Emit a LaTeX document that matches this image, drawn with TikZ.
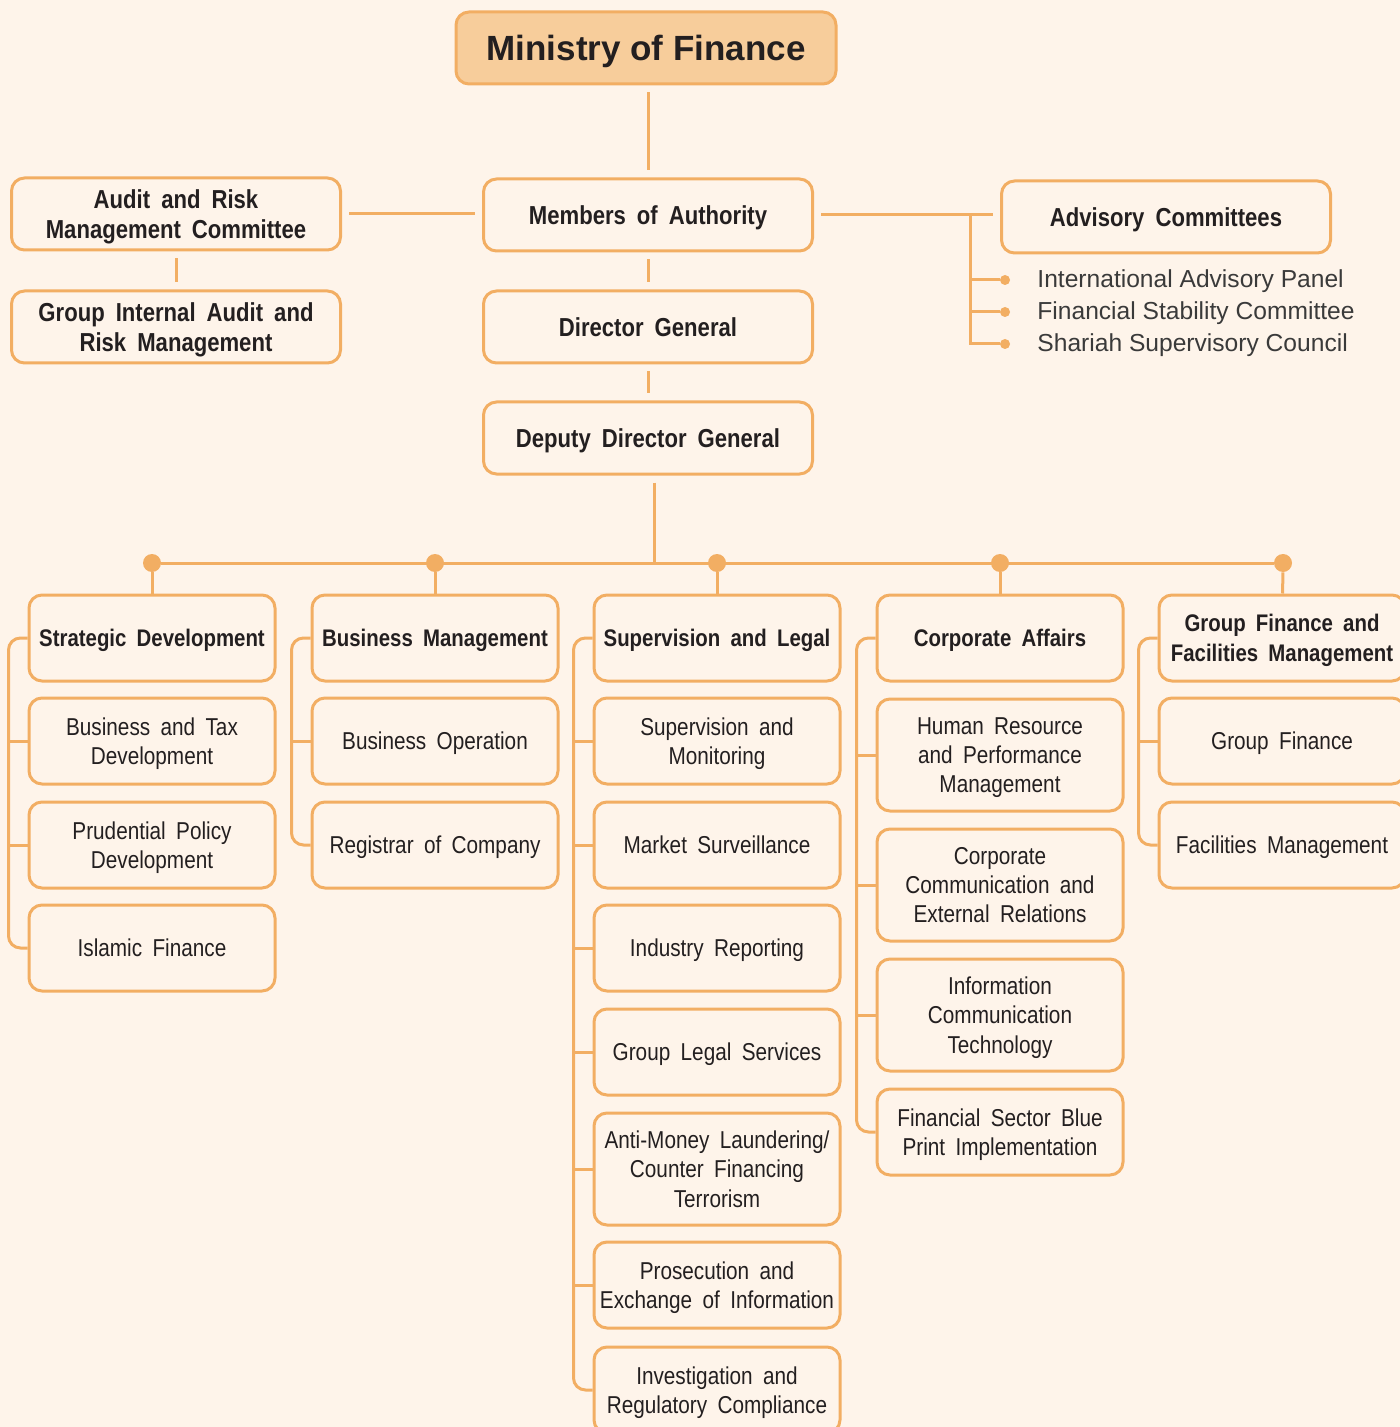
\documentclass[tikz,border=0pt]{standalone}
\usepackage{fontspec}
\setmainfont{Liberation Sans}
\newfontfamily\condfont[FakeStretch=0.85,WordSpace=1.8]{Liberation Sans}
\usetikzlibrary{positioning}

\definecolor{bgc}{HTML}{FEF4EA}
\definecolor{linec}{HTML}{F2AE63}
\definecolor{titlefill}{HTML}{F7CD9B}
\definecolor{textc}{HTML}{231F20}
\definecolor{listc}{HTML}{3A3A3A}

\tikzset{
  unitbox/.style={draw=linec, line width=1.5pt, rounded corners=6.5pt, align=center,
    text=textc, minimum width=123pt, minimum height=43pt, inner sep=1pt, text depth=0pt,
    font=\condfont\fontsize{12.2}{14.6}\selectfont},
  tallbox/.style={unitbox, minimum height=56pt},
  headbox/.style={unitbox, font=\condfont\bfseries\fontsize{12}{15}\selectfont},
  topbox/.style={unitbox, minimum width=164.5pt, minimum height=36pt,
    font=\condfont\bfseries\fontsize{13}{15}\selectfont},
  link/.style={draw=linec, line width=1.5pt},
  gap/.style={link, shorten <=3.5pt, shorten >=3.5pt},
  busdot/.style={circle, fill=linec, inner sep=0pt, minimum size=9pt},
  listdot/.style={circle, fill=linec, inner sep=0pt, minimum size=5pt},
  listitem/.style={anchor=west, inner sep=0pt, text=listc, font=\fontsize{12.3}{14}\selectfont},
}

\begin{document}
\begin{tikzpicture}[x=0.5pt,y=-0.5pt]

\useasboundingbox (0,0) rectangle (1400,1427);
\fill[bgc] (0,0) rectangle (1400,1427);

% top of the chart
\node[draw=linec, fill=titlefill, line width=1.5pt, rounded corners=6.5pt, minimum width=190pt,
  minimum height=36pt, text depth=0pt, text=textc, font=\bfseries\fontsize{17.5}{20}\selectfont] (mof) at (646,48) {Ministry of Finance};
\node[topbox] (moa) at (648,215) {Members of Authority};
\node[topbox] (arm) at (176,214) {Audit and Risk\\Management Committee};
\node[topbox] (gia) at (176,327) {Group Internal Audit and\\Risk Management};
\node[topbox] (adv) at (1166,217) {Advisory Committees};
\node[topbox] (dg) at (648,327) {Director General};
\node[topbox] (ddg) at (648,438) {Deputy Director General};

\draw[gap] (moa.north |- mof.south) -- (moa.north);
\draw[gap] (arm.east) -- (arm.east -| moa.west);
\draw[gap] (moa.east) -- (moa.east -| adv.west);
\draw[gap] (arm.south) -- (gia.north);
\draw[gap] (moa.south) -- (dg.north);
\draw[gap] (dg.south) -- (ddg.north);

% advisory committees list
\coordinate (advj) at (970,214);
\node[listdot] (a1) at (1005,280) {};
\node[listdot] (a2) at (1005,312) {};
\node[listdot] (a3) at (1005,344) {};
\draw[link] (advj) |- (a3);
\draw[link] (advj |- a1) -- (a1);
\draw[link] (advj |- a2) -- (a2);
\node[listitem] (iap) at (1037,281) {International Advisory Panel};
\node[listitem] (fsc) at (1037,313) {Financial Stability Committee};
\node[listitem] (ssc) at (1037,345) {Shariah Supervisory Council};

% bus to the five divisions
\coordinate (busc) at (654,563);
\node[busdot] (d1) at (152,563) {};
\node[busdot] (d2) at (435,563) {};
\node[busdot] (d3) at (717,563) {};
\node[busdot] (d4) at (1000,563) {};
\node[busdot] (d5) at (1283,563) {};
\draw[link, shorten <=3.5pt] (ddg.south -| busc) -- (busc);
\draw[link] (d1) -- (d5);

% strategic development
\node[headbox] (sd) at (152,638) {Strategic Development};
\node[unitbox] (btd) at (152,741) {Business and Tax\\Development};
\node[unitbox] (ppd) at (152,845) {Prudential Policy\\Development};
\node[unitbox] (isf) at (152,948) {Islamic Finance};

% business management
\node[headbox] (bm) at (435,638) {Business Management};
\node[unitbox] (bo) at (435,741) {Business Operation};
\node[unitbox] (roc) at (435,845) {Registrar of Company};

% supervision and legal
\node[headbox] (sl) at (717,638) {Supervision and Legal};
\node[unitbox] (sam) at (717,741) {Supervision and\\Monitoring};
\node[unitbox] (ms) at (717,845) {Market Surveillance};
\node[unitbox] (ir) at (717,948) {Industry Reporting};
\node[unitbox] (gls) at (717,1052) {Group Legal Services};
\node[tallbox] (aml) at (717,1169) {Anti-Money Laundering/\\Counter Financing\\Terrorism};
\node[unitbox] (pei) at (717,1285) {Prosecution and\\Exchange of Information};
\node[unitbox] (irc) at (717,1390) {Investigation and\\Regulatory Compliance};

% corporate affairs
\node[headbox] (ca) at (1000,638) {Corporate Affairs};
\node[tallbox] (hr) at (1000,755) {Human Resource\\and Performance\\Management};
\node[tallbox] (cc) at (1000,885) {Corporate\\Communication and\\External Relations};
\node[tallbox] (ict) at (1000,1015) {Information\\Communication\\Technology};
\node[unitbox] (fsb) at (1000,1132) {Financial Sector Blue\\Print Implementation};

% group finance and facilities management
\node[headbox] (gf) at (1282,638) {Group Finance and\\Facilities Management};
\node[unitbox] (gfin) at (1282,741) {Group Finance};
\node[unitbox] (fm) at (1282,845) {Facilities Management};

\draw[link] (d1) -- (sd);
\draw[link] (d2) -- (bm);
\draw[link] (d3) -- (sl);
\draw[link] (d4) -- (ca);
\draw[link] (d5) -- (gf);

% left brackets
\draw[link, rounded corners=6pt] (sd.west) -- ++(-19,0) |- (isf.west);
\draw[link] (btd.west) -- ++(-19,0);
\draw[link] (ppd.west) -- ++(-19,0);

\draw[link, rounded corners=6pt] (bm.west) -- ++(-19,0) |- (roc.west);
\draw[link] (bo.west) -- ++(-19,0);

\draw[link, rounded corners=6pt] (sl.west) -- ++(-19,0) |- (irc.west);
\draw[link] (sam.west) -- ++(-19,0);
\draw[link] (ms.west) -- ++(-19,0);
\draw[link] (ir.west) -- ++(-19,0);
\draw[link] (gls.west) -- ++(-19,0);
\draw[link] (aml.west) -- ++(-19,0);
\draw[link] (pei.west) -- ++(-19,0);

\draw[link, rounded corners=6pt] (ca.west) -- ++(-19,0) |- (fsb.west);
\draw[link] (hr.west) -- ++(-19,0);
\draw[link] (cc.west) -- ++(-19,0);
\draw[link] (ict.west) -- ++(-19,0);

\draw[link, rounded corners=6pt] (gf.west) -- ++(-19,0) |- (fm.west);
\draw[link] (gfin.west) -- ++(-19,0);

\end{tikzpicture}
\end{document}
